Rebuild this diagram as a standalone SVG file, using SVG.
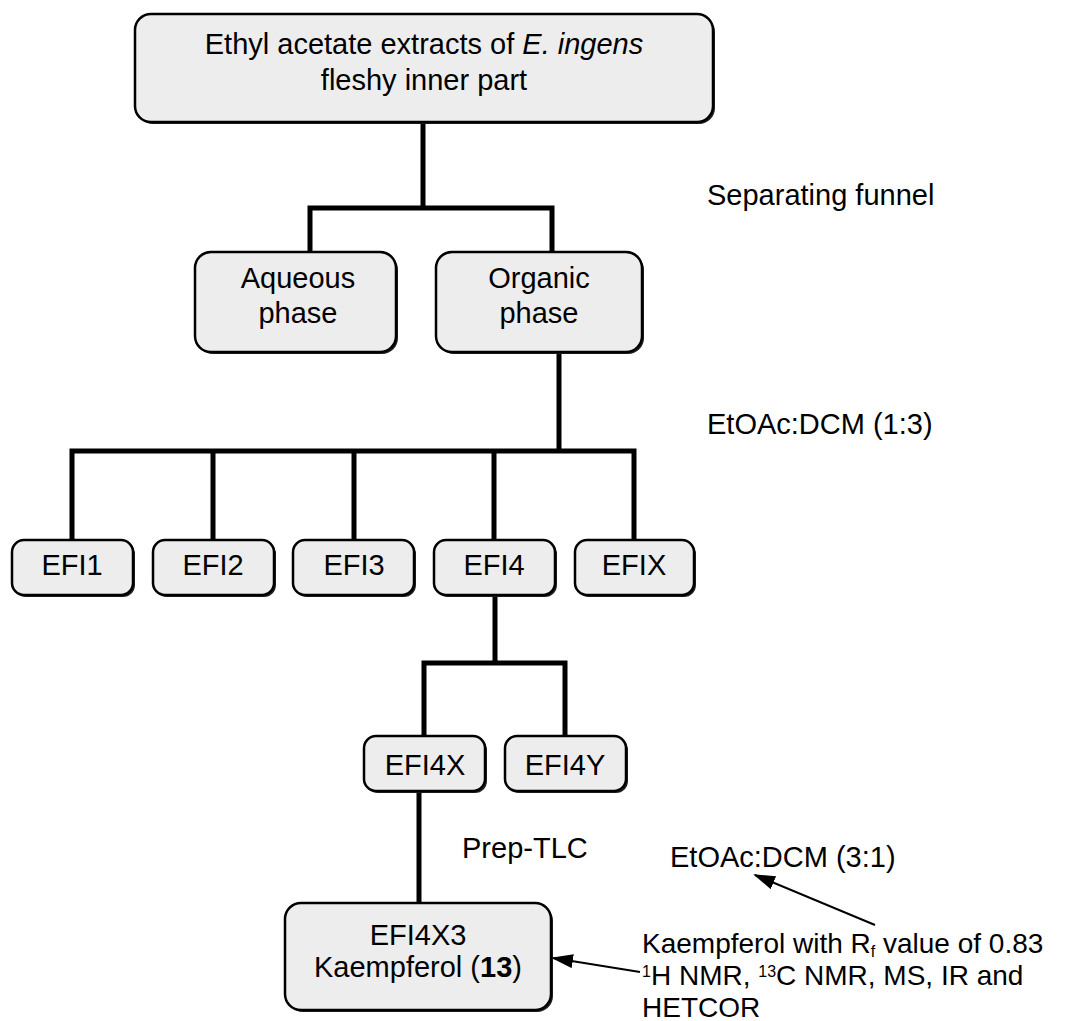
<svg xmlns="http://www.w3.org/2000/svg" width="1075" height="1021" viewBox="0 0 1075 1021">
<defs>
<style>
.box{fill:#ededed;stroke:#000;stroke-width:2.5}
.sh{fill:#222}
.t{font-family:"Liberation Sans",Arial,sans-serif;font-size:29px;fill:#000}
.n{font-size:28px}
.c{text-anchor:middle}
.ln{stroke:#000;stroke-width:5;fill:none;stroke-linecap:square}
.ar{stroke:#000;stroke-width:2;fill:none}
.s{font-size:16px}
</style>
<marker id="ah" markerWidth="22" markerHeight="14" refX="20" refY="7" orient="auto" markerUnits="userSpaceOnUse"><path d="M0,0 L22,7 L0,14 z" fill="#000"/></marker>
</defs>
<rect width="1075" height="1021" fill="#fff"/>
<g id="connectors">
<path class="ln" d="M423,122 V208 M310,208 H552 M310,208 V252 M552,208 V252"/>
<path class="ln" d="M559,352 V451 M72,451 H634 M72,451 V540 M213,451 V540 M354,451 V540 M494,451 V540 M634,451 V540"/>
<path class="ln" d="M495,595 V663 M424,663 H565 M424,663 V736 M565,663 V736"/>
<path class="ln" d="M419,791 V903"/>
<line class="ar" x1="875" y1="925" x2="755" y2="875" marker-end="url(#ah)"/>
<line class="ar" x1="640" y1="972" x2="553" y2="958" marker-end="url(#ah)"/>
</g>
<g id="title">
<rect class="sh" x="137" y="16" width="578" height="108" rx="16"/>
<rect class="box" x="135" y="14" width="578" height="108" rx="16"/>
<text class="t c" x="424" y="54">Ethyl acetate extracts of <tspan font-style="italic">E. ingens</tspan></text>
<text class="t c" x="424" y="90">fleshy inner part</text>
</g>
<g id="aqueous">
<rect class="sh" x="197" y="254" width="201" height="100" rx="16"/>
<rect class="box" x="195" y="252" width="201" height="100" rx="16"/>
<text class="t c" x="298" y="288">Aqueous</text>
<text class="t c" x="298" y="323">phase</text>
</g>
<g id="organic">
<rect class="sh" x="438" y="254" width="206" height="100" rx="16"/>
<rect class="box" x="436" y="252" width="206" height="100" rx="16"/>
<text class="t c" x="539" y="288">Organic</text>
<text class="t c" x="539" y="323">phase</text>
</g>
<g id="efi1">
<rect class="sh" x="14" y="542" width="121" height="55" rx="12"/>
<rect class="box" x="12" y="540" width="121" height="55" rx="12"/>
<text class="t c" x="72" y="575">EFI1</text>
</g>
<g id="efi2">
<rect class="sh" x="155" y="542" width="121" height="55" rx="12"/>
<rect class="box" x="153" y="540" width="121" height="55" rx="12"/>
<text class="t c" x="213" y="575">EFI2</text>
</g>
<g id="efi3">
<rect class="sh" x="295" y="542" width="121" height="55" rx="12"/>
<rect class="box" x="293" y="540" width="121" height="55" rx="12"/>
<text class="t c" x="354" y="575">EFI3</text>
</g>
<g id="efi4">
<rect class="sh" x="436" y="542" width="121" height="55" rx="12"/>
<rect class="box" x="434" y="540" width="121" height="55" rx="12"/>
<text class="t c" x="494" y="575">EFI4</text>
</g>
<g id="efix">
<rect class="sh" x="577" y="542" width="119" height="55" rx="12"/>
<rect class="box" x="575" y="540" width="119" height="55" rx="12"/>
<text class="t c" x="634" y="575">EFIX</text>
</g>
<g id="efi4x">
<rect class="sh" x="366" y="738" width="121" height="55" rx="12"/>
<rect class="box" x="364" y="736" width="121" height="55" rx="12"/>
<text class="t c" x="425" y="775">EFI4X</text>
</g>
<g id="efi4y">
<rect class="sh" x="507" y="738" width="121" height="55" rx="12"/>
<rect class="box" x="505" y="736" width="121" height="55" rx="12"/>
<text class="t c" x="565" y="775">EFI4Y</text>
</g>
<g id="efi4x3">
<rect class="sh" x="287" y="905" width="266" height="107" rx="16"/>
<rect class="box" x="285" y="903" width="266" height="107" rx="16"/>
<text class="t c" x="418" y="945">EFI4X3</text>
<text class="t c" x="418" y="977">Kaempferol (<tspan font-weight="bold">13</tspan>)</text>
</g>
<g id="labels">
<text class="t" x="707" y="205">Separating funnel</text>
<text class="t" x="707" y="434">EtOAc:DCM (1:3)</text>
<text class="t" x="462" y="858">Prep-TLC</text>
<text class="t" x="670" y="867">EtOAc:DCM (3:1)</text>
<text class="t n" x="642" y="953">Kaempferol with R<tspan class="s" dy="4">f</tspan><tspan dy="-4"> value of 0.83</tspan></text>
<text class="t n" x="642" y="985"><tspan class="s" dy="-8">1</tspan><tspan dy="8">H NMR, </tspan><tspan class="s" dy="-8">13</tspan><tspan dy="8">C NMR, MS, IR and</tspan></text>
<text class="t n" x="642" y="1017">HETCOR</text>
</g>
</svg>
